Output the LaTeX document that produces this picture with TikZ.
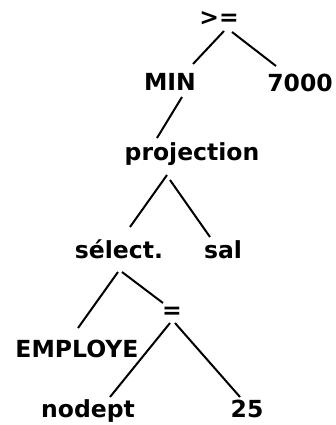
\documentclass[tikz,border=0pt]{standalone}
\usepackage{fontspec}
\setmainfont{DejaVu Sans}
\usetikzlibrary{calc}
\begin{document}
\begin{tikzpicture}[x=1pt,y=-1pt,
  term/.style={anchor=base,inner sep=0pt,font=\fontsize{23.5}{25}\selectfont\bfseries},
  edge/.style={line width=2pt}]
\useasboundingbox (0,0) rectangle (335,425);
% tree nodes
\node[term] (ge)   at (219,26)  {>=};
\node[term] (min)  at (170,91)  {MIN};
\node[term] (val)  at (300,92)  {7000};
\node[term] (proj) at (192,160) {projection};
\node[term] (sel)  at (119,258) {sélect.};
\node[term] (sal)  at (223,258) {sal};
\node[term] (eq)   at (172,318) {=};
\node[term] (emp)  at (77,357)  {EMPLOYE};
\node[term] (nod)  at (88,417)  {nodept};
\node[term] (num)  at (247,417) {25};
% branches
\draw[edge] ($(ge.base)+(5,5)$)    -- ($(min.base)+(23,-27)$);
\draw[edge] ($(ge.base)+(13,6)$)   -- ($(val.base)+(-24,-26)$);
\draw[edge] ($(min.base)+(12,6)$)  -- ($(proj.base)+(-35,-22)$);
\draw[edge] ($(proj.base)+(-25,15)$) -- ($(sel.base)+(11,-31)$);
\draw[edge] ($(proj.base)+(-22,20)$) -- ($(sal.base)+(-13,-21)$);
\draw[edge] ($(sel.base)+(-1,14)$) -- ($(emp.base)+(1,-29)$);
\draw[edge] ($(sel.base)+(3,14)$)  -- ($(eq.base)+(-9,-15)$);
\draw[edge] ($(eq.base)+(-2,5)$)   -- ($(nod.base)+(22,-20)$);
\draw[edge] ($(eq.base)+(3,5)$)    -- ($(num.base)+(-7,-20)$);
\end{tikzpicture}
\end{document}
